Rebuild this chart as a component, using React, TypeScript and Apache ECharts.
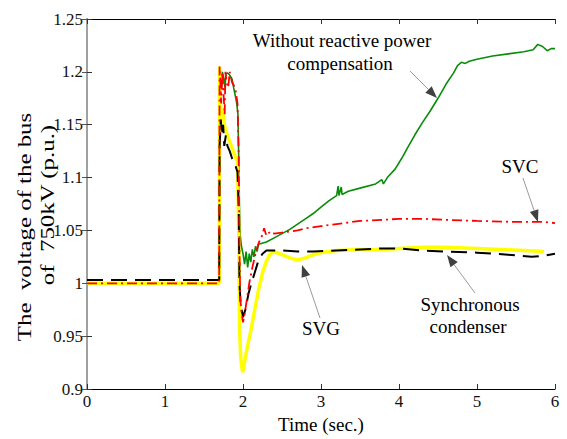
import React, { useEffect, useRef } from "react";
import * as echarts from "echarts";

const xTicks = [0, 1, 2, 3, 4, 5, 6];
const yTicks = [0.9, 0.95, 1, 1.05, 1.1, 1.15, 1.2, 1.25];

const noCompensation: [number, number][] = [
  [0, 1.0], [1.695, 1.0], [1.70, 1.19], [1.71, 1.2], [1.725, 1.185], [1.735, 1.2], [1.75, 1.195],
  [1.77, 1.185], [1.78, 1.198], [1.80, 1.199], [1.83, 1.197], [1.86, 1.193], [1.88, 1.185], [1.90, 1.178],
  [1.92, 1.17], [1.935, 1.16], [1.945, 1.12], [1.955, 1.07], [1.965, 1.045], [1.98, 1.035], [2.0, 1.028],
  [2.02, 1.018], [2.04, 1.03], [2.06, 1.015], [2.08, 1.028], [2.10, 1.02], [2.12, 1.032], [2.14, 1.025],
  [2.16, 1.035], [2.18, 1.03], [2.2, 1.037], [2.3, 1.039], [2.4, 1.043], [2.5, 1.047], [2.6, 1.051],
  [2.7, 1.056], [2.8, 1.061], [2.9, 1.066], [3.0, 1.072], [3.1, 1.078], [3.2, 1.083], [3.22, 1.092],
  [3.23, 1.083], [3.26, 1.091], [3.27, 1.084], [3.35, 1.087], [3.5, 1.09], [3.7, 1.094], [3.78, 1.098],
  [3.8, 1.094], [3.85, 1.1], [3.95, 1.108], [4.0, 1.114], [4.05, 1.12], [4.1, 1.127], [4.2, 1.14],
  [4.3, 1.152], [4.4, 1.163], [4.5, 1.175], [4.6, 1.188], [4.7, 1.199], [4.75, 1.206], [4.8, 1.209],
  [4.85, 1.208], [4.9, 1.21], [5.0, 1.212], [5.2, 1.215], [5.4, 1.217], [5.6, 1.219], [5.72, 1.221],
  [5.78, 1.226], [5.84, 1.224], [5.9, 1.22], [5.95, 1.222], [6.0, 1.222],
];

const svcData: [number, number][] = [
  [0, 1.0], [1.695, 1.0], [1.70, 1.205], [1.71, 1.19], [1.72, 1.17], [1.735, 1.2], [1.75, 1.18],
  [1.765, 1.16], [1.775, 1.2], [1.79, 1.19], [1.81, 1.185], [1.83, 1.2], [1.86, 1.19], [1.9, 1.185],
  [1.93, 1.17], [1.945, 1.12], [1.955, 1.03], [1.965, 0.985], [1.985, 0.97], [2.0, 0.963], [2.02, 0.97],
  [2.05, 0.985], [2.08, 1.0], [2.12, 1.015], [2.16, 1.028], [2.2, 1.038], [2.25, 1.046], [2.27, 1.052],
  [2.3, 1.045], [2.35, 1.049], [2.4, 1.047], [2.5, 1.048], [2.6, 1.049], [2.7, 1.05], [2.8, 1.052],
  [3.0, 1.054], [3.2, 1.056], [3.5, 1.059], [3.8, 1.06], [4.0, 1.061], [4.3, 1.061], [4.6, 1.06],
  [5.0, 1.059], [5.5, 1.058], [5.85, 1.058], [6.0, 1.057],
];

const syncCondenser: [number, number][] = [
  [0, 1.003], [1.695, 1.003], [1.70, 1.13], [1.715, 1.155], [1.73, 1.14], [1.745, 1.15], [1.76, 1.13],
  [1.78, 1.14], [1.80, 1.13], [1.83, 1.125], [1.86, 1.118], [1.9, 1.112], [1.93, 1.105], [1.945, 1.07],
  [1.955, 1.0], [1.97, 0.98], [1.99, 0.972], [2.0, 0.968], [2.03, 0.975], [2.07, 0.99], [2.1, 0.998],
  [2.15, 1.01], [2.2, 1.022], [2.25, 1.028], [2.3, 1.031], [2.5, 1.031], [2.7, 1.03], [2.9, 1.03],
  [3.2, 1.031], [3.5, 1.032], [3.8, 1.033], [4.0, 1.033], [4.3, 1.031], [4.6, 1.03], [5.0, 1.029],
  [5.4, 1.027], [5.7, 1.025], [5.85, 1.026], [6.0, 1.028],
];

const svgData: [number, number][] = [
  [0, 1.0], [1.695, 1.0], [1.70, 1.205], [1.71, 1.17], [1.725, 1.16], [1.74, 1.165], [1.76, 1.15],
  [1.8, 1.14], [1.85, 1.13], [1.9, 1.12], [1.93, 1.115], [1.945, 1.05], [1.955, 0.96], [1.97, 0.93],
  [1.99, 0.918], [2.0, 0.916], [2.03, 0.93], [2.07, 0.945], [2.1, 0.955], [2.15, 0.975], [2.2, 0.994],
  [2.25, 1.01], [2.3, 1.021], [2.35, 1.028], [2.4, 1.03], [2.5, 1.027], [2.6, 1.024], [2.7, 1.022],
  [2.8, 1.024], [2.9, 1.027], [3.0, 1.029], [3.2, 1.031], [3.5, 1.032], [3.8, 1.032], [4.0, 1.033],
  [4.3, 1.034], [4.6, 1.034], [5.0, 1.033], [5.3, 1.032], [5.6, 1.031], [5.86, 1.03],
];

const FONT = "Times New Roman, Liberation Serif, serif";

function arrow(x0: number, y0: number, x1: number, y1: number) {
  const dx = x1 - x0;
  const dy = y1 - y0;
  const len = Math.sqrt(dx * dx + dy * dy);
  const ux = dx / len;
  const uy = dy / len;
  const hl = 12;
  const hw = 4.5;
  const bx = x1 - ux * hl;
  const by = y1 - uy * hl;
  return [
    {
      type: "line",
      shape: { x1: x0, y1: y0, x2: bx, y2: by },
      style: { stroke: "#9a9a9a", lineWidth: 1 },
      silent: true,
      z: 10,
    },
    {
      type: "polygon",
      shape: {
        points: [
          [x1, y1],
          [bx - uy * hw, by + ux * hw],
          [bx + uy * hw, by - ux * hw],
        ],
      },
      style: { fill: "#404040" },
      silent: true,
      z: 10,
    },
  ];
}

function label(text: string, x: number, y: number, size = 18) {
  return {
    type: "text",
    x,
    y,
    style: {
      text,
      fontFamily: FONT,
      fontSize: size,
      fontWeight: "normal",
      fill: "#000",
      align: "center",
      verticalAlign: "middle",
    },
    silent: true,
    z: 10,
  };
}

function rotLabel(text: string, x: number, y: number) {
  return {
    type: "text",
    x,
    y,
    rotation: Math.PI / 2,
    scaleX: 1.38,
    style: {
      text,
      fontFamily: FONT,
      fontSize: 18,
      fontWeight: "normal",
      fill: "#000",
      align: "center",
      verticalAlign: "middle",
    },
    silent: true,
  };
}

export default function App() {
  const ref = useRef<HTMLDivElement>(null);
  useEffect(() => {
    if (!ref.current) return;
    const chart = echarts.init(ref.current, undefined, { renderer: "svg" });
    const fmt = (v: number) => String(parseFloat(v.toFixed(2)));
    chart.setOption({
      animation: false,
      backgroundColor: "#fff",
      textStyle: { fontFamily: FONT, fontWeight: "normal" },
      grid: { left: 87, right: 12, top: 19, bottom: 50 },
      xAxis: [
        {
          type: "value",
          min: xTicks[0],
          max: xTicks[xTicks.length - 1],
          interval: 1,
          name: "Time (sec.)",
          nameLocation: "middle",
          nameGap: 25,
          nameTextStyle: { fontFamily: FONT, fontSize: 19, fontWeight: "normal", color: "#000" },
          axisLine: { lineStyle: { color: "#000", width: 1 } },
          axisTick: { inside: true, length: 5, lineStyle: { color: "#333" } },
          axisLabel: { fontFamily: FONT, fontSize: 17, fontWeight: "normal", color: "#111", margin: 4, formatter: fmt },
          splitLine: { show: false },
        },
        {
          type: "value",
          position: "top",
          min: xTicks[0],
          max: xTicks[xTicks.length - 1],
          interval: 1,
          axisLine: { lineStyle: { color: "#000", width: 1 } },
          axisTick: { inside: true, length: 5, lineStyle: { color: "#333" } },
          axisLabel: { show: false },
          splitLine: { show: false },
        },
      ],
      yAxis: [
        {
          type: "value",
          min: yTicks[0],
          max: yTicks[yTicks.length - 1],
          interval: 0.05,
          axisLine: { show: true, lineStyle: { color: "#a0a0a0", width: 2 } },
          axisTick: { inside: true, length: 5, lineStyle: { color: "#333" } },
          axisLabel: { fontFamily: FONT, fontSize: 17, fontWeight: "normal", color: "#111", margin: 4, formatter: fmt },
          splitLine: { show: false },
        },
        {
          type: "value",
          position: "right",
          min: yTicks[0],
          max: yTicks[yTicks.length - 1],
          interval: 0.05,
          axisLine: { show: true, lineStyle: { color: "#a0a0a0", width: 2 } },
          axisTick: { inside: true, length: 5, lineStyle: { color: "#555" } },
          axisLabel: { show: false },
          splitLine: { show: false },
        },
      ],
      series: [
        {
          name: "Without reactive power compensation",
          type: "line",
          data: noCompensation,
          showSymbol: false,
          lineStyle: { color: "#0a8c0a", width: 1.6 },
          z: 1,
        },
        {
          name: "SVG",
          type: "line",
          data: svgData,
          showSymbol: false,
          lineStyle: { color: "#ffff00", width: 3.5 },
          z: 2,
        },
        {
          name: "Synchronous condenser",
          type: "line",
          data: syncCondenser,
          showSymbol: false,
          lineStyle: { color: "#000", width: 2, type: [16, 8] },
          z: 3,
        },
        {
          name: "SVC",
          type: "line",
          data: svcData,
          showSymbol: false,
          lineStyle: { color: "#ff0000", width: 1.8, type: [10, 4, 2, 4] },
          z: 4,
        },
      ],
      graphic: [
        rotLabel("The  voltage of the bus", 25, 227),
        rotLabel("of  750kV (p.u.)", 48, 205),
        label("Without reactive power", 342, 40, 19),
        label("compensation", 340, 63, 19),
        label("SVC", 520, 166, 19),
        label("SVG", 321, 328, 19),
        label("Synchronous", 470, 304, 19),
        label("condenser", 468, 326, 19),
        ...arrow(410, 71, 437, 98),
        ...arrow(523, 178, 538, 222),
        ...arrow(320, 318, 302, 265),
        ...arrow(475, 293, 447, 255),
      ],
    });
    return () => chart.dispose();
  }, []);
  return (
    <div
      ref={ref}
      style={{ position: "absolute", left: 0, top: 0, width: 567, height: 439 }}
    />
  );
}
